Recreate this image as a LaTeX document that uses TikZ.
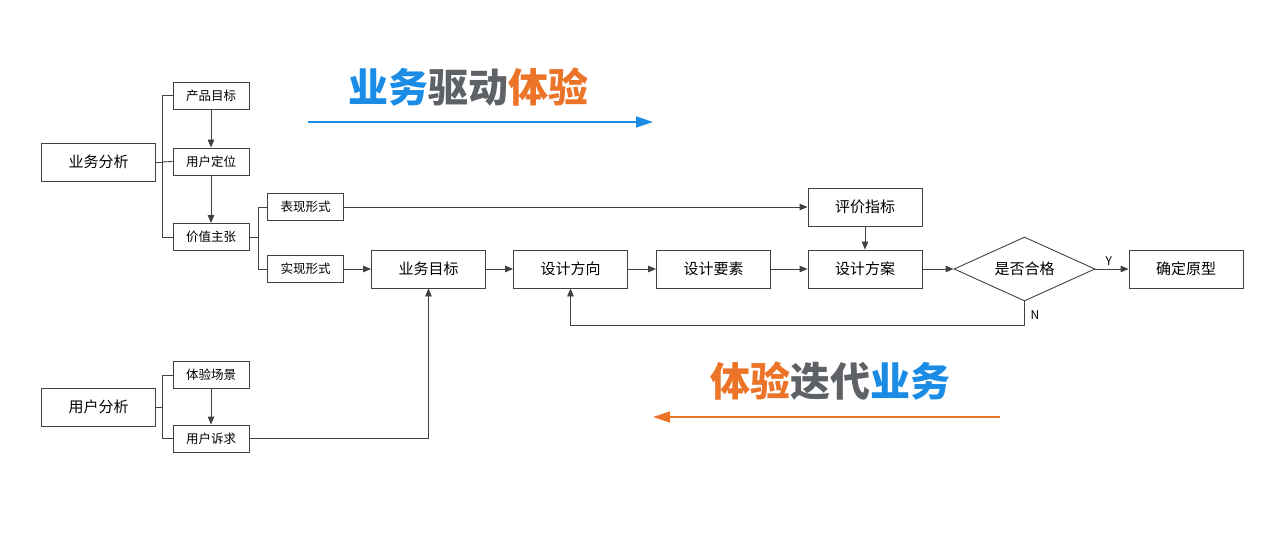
\documentclass[tikz,border=0pt]{standalone}
\usepackage{fontspec}
\setmainfont{Noto Sans CJK SC}
\usetikzlibrary{arrows.meta,shapes.geometric}
\definecolor{lc}{HTML}{404040}
\definecolor{tblue}{HTML}{1A8CE6}
\definecolor{tgray}{HTML}{5E6266}
\definecolor{torange}{HTML}{EB7428}
\tikzset{
  sbox/.style={draw=lc,line width=0.9pt,minimum width=76pt,minimum height=27pt,inner sep=0pt,font=\fontsize{12.5}{13}\selectfont},
  bbox/.style={draw=lc,line width=0.9pt,minimum width=114pt,minimum height=38pt,inner sep=0pt,font=\fontsize{15}{16}\selectfont},
  conn/.style={draw=lc,line width=0.9pt},
  arr/.style={conn,-{Triangle[length=8pt,width=6.5pt]}},
  title/.style={font=\fontsize{40}{42}\selectfont\bfseries,inner sep=0pt}
}
\begin{document}
\begin{tikzpicture}[x=1pt,y=-1pt]
\useasboundingbox (0,0) rectangle (1271,537);
% left group 1
\node[bbox] (ywfx) at (98.5,162) {业务分析};
\node[sbox] (cpmb) at (211,95.5) {产品目标};
\node[sbox] (yhdw) at (211,161.5) {用户定位};
\node[sbox] (jzzz) at (211,237) {价值主张};
\coordinate (b1) at (162,162);
\draw[conn] (ywfx.east) -- (b1);
\draw[conn] (cpmb.west) -- (162,95.5) -- (162,237) -- (jzzz.west);
\draw[conn] (b1) -- (yhdw.west);
\draw[arr] (cpmb) -- (yhdw);
\draw[arr] (yhdw) -- (jzzz);
% forms
\node[sbox] (bxxs) at (305.5,207) {表现形式};
\node[sbox] (sxxs) at (305.5,269) {实现形式};
\draw[conn] (jzzz.east) -- (258,237);
\draw[conn] (bxxs.west) -- (258,207) -- (258,269) -- (sxxs.west);
% main flow
\node[bbox] (ywmb) at (428.5,269) {业务目标};
\node[bbox] (sjfx) at (570.5,269) {设计方向};
\node[bbox] (sjys) at (713.5,269) {设计要素};
\node[bbox] (sjfa) at (865,269) {设计方案};
\node[bbox] (pjzb) at (865,207) {评价指标};
\node[diamond,draw=lc,line width=0.9pt,minimum width=141pt,minimum height=64pt,inner sep=0pt,aspect=2.2,font=\fontsize{15}{16}\selectfont] (sfhg) at (1024.5,269) {是否合格};
\node[bbox] (qdyx) at (1186,269) {确定原型};
\draw[arr] (sxxs) -- (ywmb);
\draw[arr] (ywmb) -- (sjfx);
\draw[arr] (sjfx) -- (sjys);
\draw[arr] (sjys) -- (sjfa);
\draw[arr] (sjfa) -- (sfhg);
\draw[arr] (sfhg) -- node[above,pos=0.4,font=\fontsize{12}{13}\selectfont,inner sep=3pt] (ylab) {Y} (qdyx);
\draw[arr] (bxxs) -- (pjzb);
\draw[arr] (pjzb) -- (sjfa);
\draw[arr] (sfhg.south) -- (1024.5,325) -- (570.5,325) -- (sjfx.south);
\node[font=\fontsize{12}{13}\selectfont] (nlab) at (1035,315) {N};
% left group 2
\node[bbox] (yhfx) at (98.5,407) {用户分析};
\node[sbox] (tycj) at (211,375) {体验场景};
\node[sbox] (yhsq) at (211,438.5) {用户诉求};
\draw[conn] (yhfx.east) -- (162,407);
\draw[conn] (tycj.west) -- (162,375) -- (162,438.5) -- (yhsq.west);
\draw[arr] (tycj) -- (yhsq);
\draw[arr] (yhsq.east) -- (428.5,438.5) -- (ywmb.south);
% titles
\node[title] (t1) at (468,87) {\textcolor{tblue}{业务}\textcolor{tgray}{驱动}\textcolor{torange}{体验}};
\coordinate (a1s) at (308,122);
\coordinate (a1e) at (653,122);
\draw[tblue,line width=1.5pt,-{Triangle[length=17pt,width=11pt]}] (a1s) -- (a1e);
\node[title] (t2) at (830,381) {\textcolor{torange}{体验}\textcolor{tgray}{迭代}\textcolor{tblue}{业务}};
\coordinate (a2s) at (1000,417);
\coordinate (a2e) at (653,417);
\draw[torange,line width=1.5pt,-{Triangle[length=17pt,width=11pt]}] (a2s) -- (a2e);
\end{tikzpicture}
\end{document}
